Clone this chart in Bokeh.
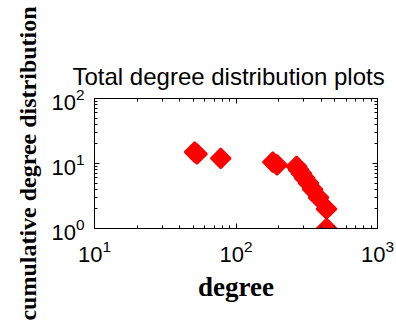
import math
from bokeh.plotting import figure
from bokeh.models import LogAxis, ColumnDataSource, FixedTicker, LogTickFormatter, CustomJSTickFormatter
from bokeh.embed import file_html
from bokeh.resources import INLINE

degree = [51, 53, 78, 182, 195, 268, 277, 290, 305, 325, 348, 383, 436, 437]
cumulative = [15, 14, 12, 10.5, 9.5, 9, 8, 7, 6, 5, 4, 3, 2, 1]

x_major = [10, 100, 1000]
y_major = [1, 10, 100]

title_text = "Total degree distribution plots"
x_label = "degree"
y_label = "cumulative degree distribution"


def minors(majors):
    return [m * k for m in majors[:-1] for k in range(2, 10)]


src = ColumnDataSource(dict(x=degree, y=cumulative))

p = figure(width=396, height=325, x_axis_type="log", y_axis_type="log",
           x_range=(10, 1000), y_range=(1, 100),
           output_backend="svg", toolbar_location=None,
           min_border_left=94, min_border_right=19,
           min_border_top=98, min_border_bottom=97,
           title=title_text)
p.background_fill_color = "white"
p.border_fill_color = "white"
p.outline_line_color = "black"
p.outline_line_width = 1
p.grid.visible = False

p.title.text_font = "Liberation Sans"
p.title.text_font_size = "24px"
p.title.text_font_style = "normal"
p.title.align = "left"
p.title.offset = -22
p.title.text_color = "black"
p.title.standoff = 18

p.scatter("x", "y", source=src, marker="square", angle=math.pi / 4, size=14,
          fill_color="red", line_color="red", line_width=2)

p.xaxis[0].ticker = FixedTicker(ticks=x_major, minor_ticks=minors(x_major))
p.yaxis[0].ticker = FixedTicker(ticks=y_major, minor_ticks=minors(y_major))
p.xaxis[0].formatter = LogTickFormatter()
p.yaxis[0].formatter = LogTickFormatter()

for ax in (p.xaxis[0], p.yaxis[0]):
    ax.major_tick_in = 5
    ax.major_tick_out = 0
    ax.minor_tick_in = 3
    ax.minor_tick_out = 0
    ax.axis_line_color = "black"
    ax.major_tick_line_color = "black"
    ax.minor_tick_line_color = "black"
    ax.major_label_text_font = "Liberation Sans"
    ax.major_label_text_font_size = "22px"
    ax.major_label_text_color = "black"
    ax.axis_label_text_font = "Liberation Serif"
    ax.axis_label_text_font_style = "bold"
    ax.axis_label_text_color = "black"

p.xaxis[0].axis_label = x_label
p.xaxis[0].axis_label_text_font_size = "27px"
p.xaxis[0].major_label_standoff = 11
p.xaxis[0].axis_label_standoff = 7
p.yaxis[0].axis_label = y_label
p.yaxis[0].axis_label_text_font_size = "24px"
p.yaxis[0].major_label_standoff = 10
p.yaxis[0].axis_label_standoff = 7

top = LogAxis(ticker=FixedTicker(ticks=x_major, minor_ticks=minors(x_major)),
              formatter=CustomJSTickFormatter(code="return ''"),
              major_tick_in=5, major_tick_out=0,
              minor_tick_in=3, minor_tick_out=0, axis_line_color="black",
              major_label_standoff=0)
right = LogAxis(ticker=FixedTicker(ticks=y_major, minor_ticks=minors(y_major)),
                formatter=CustomJSTickFormatter(code="return ''"),
                major_tick_in=5, major_tick_out=0,
                minor_tick_in=3, minor_tick_out=0, axis_line_color="black",
                major_label_standoff=0)
p.add_layout(top, "above")
p.add_layout(right, "right")

open("out.html", "w").write(file_html(p, INLINE))
